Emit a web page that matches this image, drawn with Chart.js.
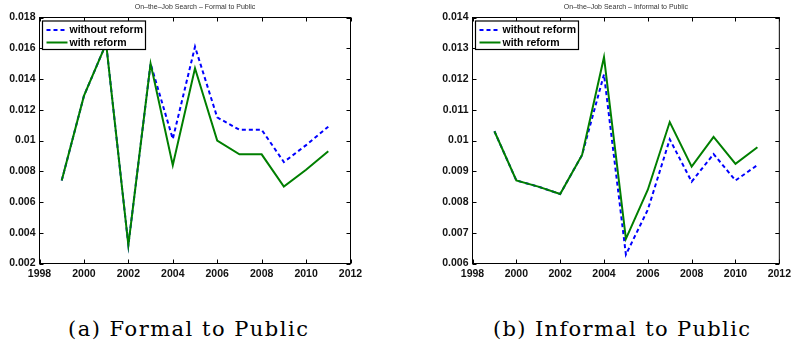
<!DOCTYPE html>
<html><head><meta charset="utf-8">
<script src="https://cdn.jsdelivr.net/npm/chart.js@4"></script>
<style>
body{margin:0;background:#fff;width:795px;height:347px;position:relative;overflow:hidden}
canvas{position:absolute;top:0}
#c1{left:0}
#c2{left:397px}
.cap{position:absolute;font-family:"DejaVu Serif",serif;font-size:21px;line-height:21px;top:319px;white-space:nowrap;color:#000}
#capA{left:68px}
#capB{left:493px}
</style></head><body>
<canvas id="c1" width="397" height="290"></canvas>
<canvas id="c2" width="398" height="290"></canvas>
<div class="cap" id="capA">(a) Formal to Public</div>
<div class="cap" id="capB">(b) Informal to Public</div>
<script>
const years=[1999,2000,2001,2002,2003,2004,2005,2006,2007,2008,2009,2010,2011];
const formalWithout=[0.0074,0.0129,0.0163,0.0032,0.0150,0.0101,0.0161,0.0115,0.0107,0.0107,0.0086,0.0097,0.0109];
const formalWith=[0.0074,0.0129,0.0163,0.0032,0.0150,0.0084,0.0147,0.0100,0.0091,0.0091,0.0070,0.0081,0.0093];
const informalWithout=[0.0103,0.0087,0.0085,0.00826,0.00953,0.01215,0.00629,0.00775,0.01004,0.00866,0.00956,0.0087,0.0092];
const informalWith=[0.0103,0.0087,0.0085,0.00826,0.00953,0.01271,0.0068,0.0084,0.0106,0.00915,0.01012,0.00924,0.00978];
const seriesNames=["without reform","with reform"];
const xTicks=[1998,2000,2002,2004,2006,2008,2010,2012];
const xTickLabels=["1998","2000","2002","2004","2006","2008","2010","2012"];
const yTicksFormal=[0.002,0.004,0.006,0.008,0.010,0.012,0.014,0.016,0.018];
const yLabelsFormal=["0.002","0.004","0.006","0.008","0.01","0.012","0.014","0.016","0.018"];
const yTicksInformal=[0.006,0.007,0.008,0.009,0.010,0.011,0.012,0.013,0.014];
const yLabelsInformal=["0.006","0.007","0.008","0.009","0.01","0.011","0.012","0.013","0.014"];
const titles=["On\u2013the\u2013Job Search \u2013 Formal to Public","On\u2013the\u2013Job Search \u2013 Informal to Public"];

// fit caption widths to the reference extents
[["capA",240],["capB",257]].forEach(([id,w])=>{
  const el=document.getElementById(id);
  const n=el.textContent.length;
  const cur=el.getBoundingClientRect().width;
  el.style.letterSpacing=((w-cur)/(n-1))+'px';
});

const BLUE='#0000ff', GREEN='#007f00';
const tickFont={family:'"Liberation Sans", Arial, sans-serif',size:10.5,weight:'bold'};

const framePlugin={id:'frame',afterDraw(chart,args,opts){
  const ctx=chart.ctx, a=chart.chartArea, x=chart.scales.x, y=chart.scales.y;
  ctx.save();
  ctx.strokeStyle='#000'; ctx.lineWidth=1; ctx.setLineDash([]);
  ctx.strokeRect(a.left,a.top,a.right-a.left,a.bottom-a.top);
  const L=4;
  ctx.beginPath();
  x.ticks.forEach(t=>{const p=Math.round(x.getPixelForValue(t.value))+0.5;
    ctx.moveTo(p,a.bottom);ctx.lineTo(p,a.bottom-L);ctx.moveTo(p,a.top);ctx.lineTo(p,a.top+L);});
  y.ticks.forEach(t=>{const p=Math.round(y.getPixelForValue(t.value))+0.5;
    ctx.moveTo(a.left,p);ctx.lineTo(a.left+L,p);ctx.moveTo(a.right,p);ctx.lineTo(a.right-L,p);});
  ctx.stroke();
  // title
  ctx.font='7px "Liberation Sans", Arial, sans-serif';
  ctx.fillStyle='#333'; ctx.textAlign='center'; ctx.textBaseline='middle';
  ctx.fillText(opts.title,(a.left+a.right)/2,7);
  // legend
  const bx=a.left+3, by=a.top+3.5, bw=103, bh=28.5;
  ctx.fillStyle='#fff'; ctx.fillRect(bx,by,bw,bh);
  ctx.strokeStyle='#000'; ctx.lineWidth=1.2; ctx.strokeRect(bx,by,bw,bh);
  const rows=[chart.data.datasets.find(d=>d.label===seriesNames[0]),chart.data.datasets.find(d=>d.label===seriesNames[1])];
  rows.forEach((d,i)=>{
    const yy=by+9+i*12.5;
    ctx.strokeStyle=d.borderColor; ctx.lineWidth=d.borderWidth; ctx.setLineDash(d.borderDash||[]);
    ctx.beginPath(); ctx.moveTo(bx+4,yy); ctx.lineTo(bx+25,yy); ctx.stroke();
    ctx.setLineDash([]);
    ctx.fillStyle='#000'; ctx.textAlign='left'; ctx.textBaseline='middle';
    ctx.font='bold 10.5px "Liberation Sans", Arial, sans-serif';
    ctx.fillText(d.label,bx+27,yy+0.5);
  });
  ctx.restore();
}};

function makeChart(id,without,withR,yTicks,yLabels,title,leftW,rightPad){
  return new Chart(document.getElementById(id),{
    type:'line',
    data:{datasets:[
      {label:seriesNames[1],data:years.map((yr,i)=>({x:yr,y:withR[i]})),borderColor:GREEN,borderWidth:2,pointRadius:0,tension:0,order:0,fill:false},
      {label:seriesNames[0],data:years.map((yr,i)=>({x:yr,y:without[i]})),borderColor:BLUE,borderWidth:2,borderDash:[4,3],pointRadius:0,tension:0,order:1,fill:false}
    ]},
    options:{
      responsive:false,animation:false,devicePixelRatio:1,
      layout:{padding:{top:17.5,left:0,right:rightPad,bottom:0}},
      plugins:{legend:{display:false},tooltip:{enabled:false},title:{display:false},frame:{title:title}},
      scales:{
        x:{type:'linear',min:xTicks[0],max:xTicks[xTicks.length-1],
          afterBuildTicks:s=>{s.ticks=xTicks.map(v=>({value:v}));},
          afterFit:s=>{s.height=26.5;},
          grid:{display:false,drawTicks:false},border:{display:false},
          ticks:{autoSkip:false,maxRotation:0,padding:4,color:'#111',font:tickFont,callback:(v,i)=>xTickLabels[i]}},
        y:{type:'linear',min:yTicks[0],max:yTicks[yTicks.length-1],
          afterBuildTicks:s=>{s.ticks=yTicks.map(v=>({value:v}));},
          afterFit:s=>{s.width=leftW;},
          grid:{display:false,drawTicks:false},border:{display:false},
          ticks:{autoSkip:false,padding:4,color:'#111',font:tickFont,callback:(v,i)=>yLabels[i]}}
      }
    },
    plugins:[framePlugin]
  });
}
makeChart('c1',formalWithout,formalWith,yTicksFormal,yLabelsFormal,titles[0],39.5,46.5);
makeChart('c2',informalWithout,informalWith,yTicksInformal,yLabelsInformal,titles[1],75.5,10.5);
</script>
</body></html>
